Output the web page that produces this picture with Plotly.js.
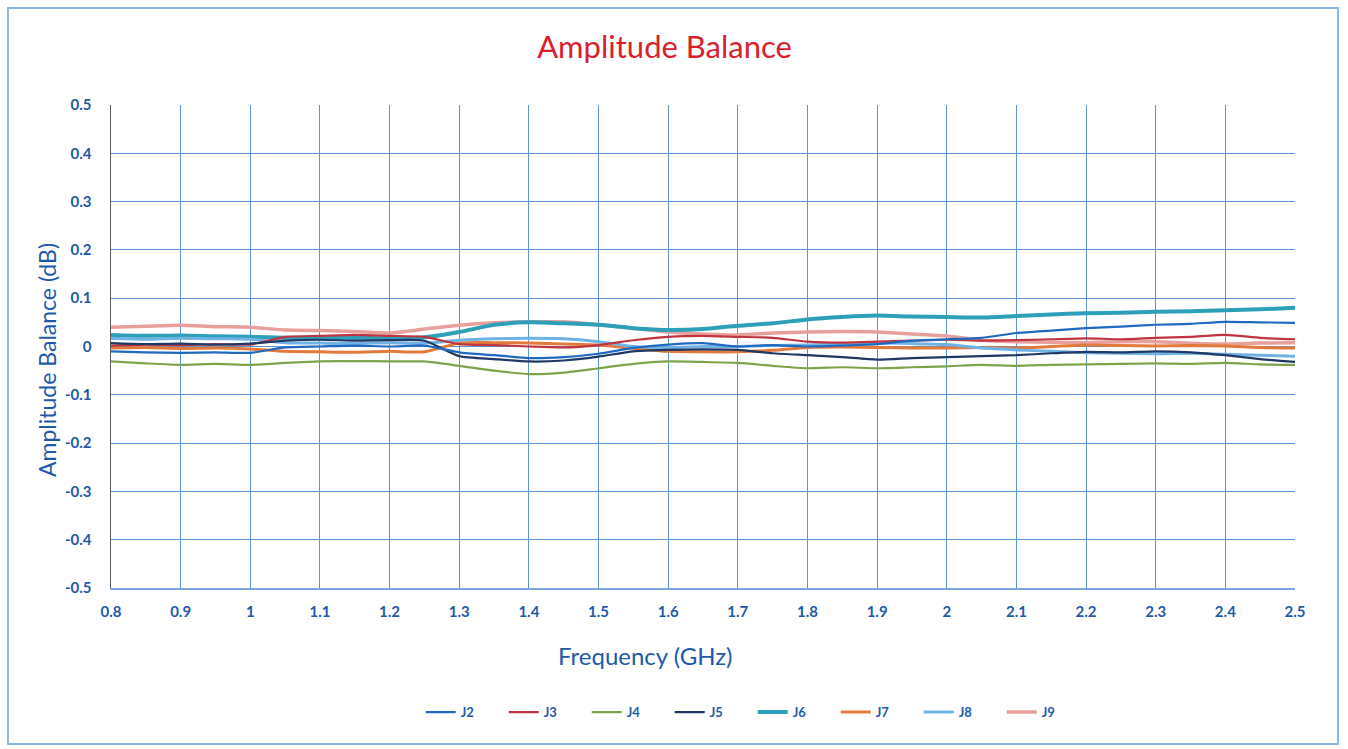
<!DOCTYPE html>
<html>
<head>
<meta charset="utf-8">
<script src="https://cdn.plot.ly/plotly-3.0.1.min.js"></script>
<style>
  html, body { margin: 0; padding: 0; background: #fff; }
  #wrap { position: relative; width: 1348px; height: 749px; }
  #chart { width: 1348px; height: 749px; }
  #frame { position: absolute; left: 7px; top: 7px; width: 1332px; height: 738px;
           border: 2px solid #8db8e4; box-sizing: border-box; pointer-events: none; }
</style>
</head>
<body>
<div id="wrap"><div id="chart"></div><div id="frame"></div></div>
<script>
// Frequency (GHz)
const freq = [0.8,0.85,0.9,0.95,1.0,1.05,1.1,1.15,1.2,1.25,1.3,1.35,1.4,1.45,1.5,1.55,1.6,1.65,1.7,1.75,1.8,1.85,1.9,1.95,2.0,2.05,2.1,2.15,2.2,2.25,2.3,2.35,2.4,2.45,2.5];

const J2 = [-0.010,-0.012,-0.013,-0.012,-0.013,-0.002,0.000,0.002,0.000,0.002,-0.012,-0.018,-0.024,-0.022,-0.015,-0.003,0.004,0.007,0.000,0.003,0.000,0.002,0.005,0.012,0.015,0.018,0.028,0.033,0.038,0.041,0.045,0.047,0.051,0.050,0.049];
const J3 = [0.002,0.004,0.003,0.005,0.004,0.020,0.022,0.024,0.022,0.020,0.005,0.003,0.000,-0.002,0.003,0.013,0.020,0.022,0.020,0.018,0.010,0.008,0.010,0.012,0.014,0.012,0.013,0.015,0.017,0.015,0.018,0.020,0.024,0.018,0.015];
const J4 = [-0.031,-0.035,-0.038,-0.036,-0.038,-0.034,-0.031,-0.030,-0.031,-0.031,-0.040,-0.050,-0.057,-0.054,-0.045,-0.036,-0.031,-0.032,-0.034,-0.040,-0.045,-0.043,-0.045,-0.043,-0.041,-0.038,-0.040,-0.038,-0.037,-0.036,-0.035,-0.036,-0.034,-0.037,-0.038];
const J5 = [0.007,0.005,0.006,0.004,0.006,0.012,0.014,0.012,0.013,0.012,-0.020,-0.026,-0.031,-0.029,-0.021,-0.010,-0.007,-0.006,-0.007,-0.014,-0.018,-0.022,-0.027,-0.024,-0.022,-0.020,-0.018,-0.014,-0.011,-0.012,-0.010,-0.012,-0.018,-0.026,-0.032];
const J6 = [0.024,0.022,0.023,0.021,0.020,0.018,0.017,0.018,0.017,0.019,0.030,0.045,0.050,0.048,0.045,0.038,0.034,0.036,0.043,0.048,0.056,0.061,0.064,0.062,0.061,0.060,0.063,0.066,0.069,0.070,0.072,0.073,0.075,0.077,0.080];
const J7 = [-0.003,-0.002,-0.004,-0.003,-0.005,-0.010,-0.011,-0.012,-0.010,-0.011,0.007,0.008,0.007,0.005,0.003,-0.004,-0.010,-0.011,-0.011,-0.008,-0.002,-0.001,-0.002,-0.003,-0.003,-0.002,-0.003,0.000,0.003,0.002,0.001,0.002,0.001,-0.002,-0.003];
const J8 = [0.017,0.015,0.017,0.016,0.015,0.008,0.007,0.006,0.008,0.007,0.013,0.016,0.017,0.016,0.010,0.000,-0.002,0.000,0.000,0.002,0.003,0.005,0.007,0.006,0.004,-0.003,-0.007,-0.010,-0.013,-0.014,-0.015,-0.014,-0.016,-0.018,-0.020];
const J9 = [0.040,0.042,0.044,0.041,0.040,0.034,0.033,0.031,0.028,0.036,0.044,0.049,0.051,0.051,0.045,0.038,0.030,0.026,0.024,0.028,0.030,0.031,0.030,0.026,0.022,0.013,0.010,0.009,0.008,0.010,0.010,0.007,0.005,0.007,0.008];

const names = ['J2','J3','J4','J5','J6','J7','J8','J9'];
const series = [J2,J3,J4,J5,J6,J7,J8,J9];
const colors = ['#2169c0','#c0343f','#7ea34a','#1f3864','#2e9fb8','#e27a3c','#6fb2e4','#e8a09c'];
const widths = [2.2,2.2,2.2,2.2,4,3,3,3.5];

const xTicks = [0.8,0.9,1.0,1.1,1.2,1.3,1.4,1.5,1.6,1.7,1.8,1.9,2.0,2.1,2.2,2.3,2.4,2.5];
const xTickText = ['0.8','0.9','1','1.1','1.2','1.3','1.4','1.5','1.6','1.7','1.8','1.9','2','2.1','2.2','2.3','2.4','2.5'];
const yTicks = [-0.5,-0.4,-0.3,-0.2,-0.1,0,0.1,0.2,0.3,0.4,0.5];
const yTickText = ['-0.5','-0.4','-0.3','-0.2','-0.1','0','0.1','0.2','0.3','0.4','0.5'];

const order = [7,4,5,6,2,1,3,0];
const traces = order.map(i => ({
  x: freq, y: series[i], name: names[i], type: 'scatter', mode: 'lines',
  line: {color: colors[i], width: widths[i], shape: 'spline', smoothing: 0.6},
  legendrank: i + 1
}));

const FONT = 'Lato, "Open Sans", sans-serif';
const BLUE = '#1f5aa8';
const tickFont = {family: FONT, size: 15, color: BLUE, weight: 'bold'};

const layout = {
  width: 1348, height: 749,
  margin: {l: 111, r: 53, t: 105, b: 161},
  paper_bgcolor: '#ffffff', plot_bgcolor: '#ffffff',
  title: {text: 'Amplitude Balance', x: 0.493, xanchor: 'center', y: 0.937, yanchor: 'middle',
          font: {family: FONT, size: 31, color: '#d9202c'}},
  xaxis: {
    range: [0.8, 2.5], tickvals: xTicks, ticktext: xTickText,
    showgrid: true, gridcolor: '#5b93d3', gridwidth: 1,
    zeroline: false, showline: true, linecolor: '#7aa8dc', linewidth: 1.5,
    ticks: '', ticklabelstandoff: 9, tickfont: tickFont
  },
  yaxis: {
    range: [-0.5, 0.5], tickvals: yTicks, ticktext: yTickText,
    showgrid: true, gridcolor: '#5b93d3', gridwidth: 1,
    zeroline: false, showline: true, linecolor: '#5a5a5a', linewidth: 1.5,
    ticks: '', ticklabelstandoff: 15, tickfont: tickFont
  },
  annotations: [
    {text: 'Frequency (GHz)', xref: 'paper', yref: 'paper',
     x: (645 - 111) / 1184, y: (588 - 655) / 483, xanchor: 'center', yanchor: 'middle',
     showarrow: false, font: {family: FONT, size: 24, color: BLUE}},
    {text: 'Amplitude Balance (dB)', xref: 'paper', yref: 'paper', textangle: -90,
     x: (47 - 111) / 1184, y: (588 - 360) / 483, xanchor: 'center', yanchor: 'middle',
     showarrow: false, font: {family: FONT, size: 23, color: BLUE}}
  ],
  showlegend: true,
  legend: {
    orientation: 'h', x: 0.542, xanchor: 'center', y: -0.257, yanchor: 'middle',
    entrywidth: 38, entrywidthmode: 'pixels', traceorder: 'normal',
    font: {family: FONT, size: 13, color: BLUE, weight: 'bold'},
    itemwidth: 30
  }
};

Plotly.newPlot('chart', traces, layout, {displayModeBar: false, staticPlot: true});
</script>
</body>
</html>
